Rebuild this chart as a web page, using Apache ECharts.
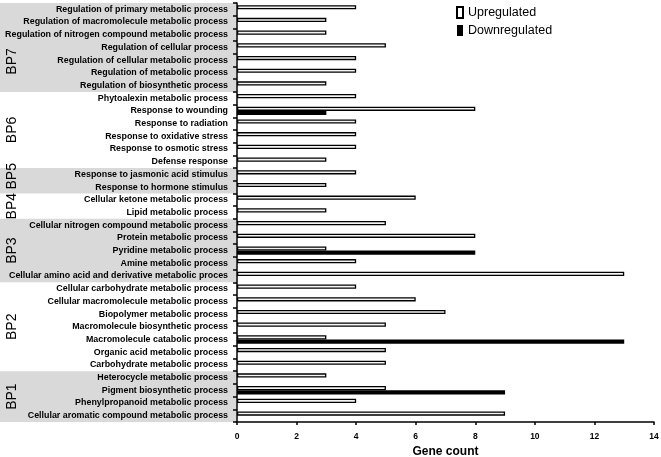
<!DOCTYPE html>
<html>
<head>
<meta charset="utf-8">
<script src="https://cdn.jsdelivr.net/npm/echarts@6/dist/echarts.min.js"></script>
<style>
html,body{margin:0;padding:0;background:#fff;}
#main{width:661px;height:457px;}
</style>
</head>
<body>
<div id="main"></div>
<script>
// ---- data (top to bottom) ----
const categories = [
  "Regulation of primary metabolic process",
  "Regulation of macromolecule metabolic process",
  "Regulation of nitrogen compound metabolic process",
  "Regulation of cellular process",
  "Regulation of cellular metabolic process",
  "Regulation of metabolic process",
  "Regulation of biosynthetic process",
  "Phytoalexin metabolic process",
  "Response to wounding",
  "Response to radiation",
  "Response to oxidative stress",
  "Response to osmotic stress",
  "Defense response",
  "Response to jasmonic acid stimulus",
  "Response to hormone stimulus",
  "Cellular ketone metabolic process",
  "Lipid metabolic process",
  "Cellular nitrogen compound metabolic process",
  "Protein metabolic process",
  "Pyridine metabolic process",
  "Amine metabolic process",
  "Cellular amino acid and derivative metabolic proces",
  "Cellular carbohydrate metabolic process",
  "Cellular macromolecule metabolic process",
  "Biopolymer metabolic process",
  "Macromolecule biosynthetic process",
  "Macromolecule catabolic process",
  "Organic acid metabolic process",
  "Carbohydrate metabolic process",
  "Heterocycle metabolic process",
  "Pigment biosynthetic process",
  "Phenylpropanoid metabolic process",
  "Cellular aromatic compound metabolic process"
];
const upregulated = [4,3,3,5,4,4,3,4,8,4,4,4,3,4,3,6,3,5,8,3,4,13,4,6,7,5,3,5,5,3,5,4,9];
const downregulated = [null,null,null,null,null,null,null,null,3,null,null,null,null,null,null,null,null,null,null,8,null,null,null,null,null,null,13,null,null,null,9,null,null];
const xTicks = [0,2,4,6,8,10,12,14];
// groups: name, first category index, last category index, shaded
const groupNames = ["BP7","BP6","BP5","BP4","BP3","BP2","BP1"];
const groupFirst = [0,7,13,15,17,22,29];
const groupLast  = [6,12,14,16,21,28,32];
const groupShaded = [true,false,true,false,true,false,true];

// ---- layout ----
const labelShift = {BP7: 1.1, BP5: -0.35}; // in category units
const labelFont = "'Liberation Sans', Arial, sans-serif";

const chart = echarts.init(document.getElementById('main'));
chart.setOption({
  animation: false,
  backgroundColor: '#fff',
  grid: {left: 237, right: 7, top: 3, bottom: 35, containLabel: false, outerBoundsMode: 'none'},
  legend: {
    left: 456, top: 6, orient: 'vertical', padding: 0,
    itemWidth: 6, itemHeight: 11, itemGap: 5,
    textStyle: {fontFamily: 'Liberation Sans, Arial, sans-serif', fontSize: 12.5, color: '#000'},
    data: [
      {name: 'Upregulated', icon: 'rect', itemStyle: {color: '#fff', borderColor: '#000', borderWidth: 2}},
      {name: 'Downregulated', icon: 'rect', itemStyle: {color: '#000', borderColor: '#000', borderWidth: 0}}
    ]
  },
  xAxis: {
    type: 'value', min: xTicks[0], max: xTicks[xTicks.length-1], interval: 2,
    name: 'Gene count', nameLocation: 'middle', nameGap: 23,
    nameTextStyle: {fontFamily: 'Liberation Sans, Arial, sans-serif', fontWeight: 'bold', fontSize: 12, color: '#000'},
    axisLine: {show: true, lineStyle: {color: '#000', width: 1.5}},
    axisTick: {show: true, length: 3, lineStyle: {color: '#000', width: 1.5}},
    axisLabel: {fontFamily: 'Liberation Sans, Arial, sans-serif', fontWeight: 'bold', fontSize: 8.5, color: '#000', margin: 10},
    splitLine: {show: false}
  },
  yAxis: {
    type: 'category', data: categories, inverse: true,
    axisLine: {show: true, lineStyle: {color: '#000', width: 1.5}},
    axisTick: {show: true, length: 4, interval: 0, lineStyle: {color: '#000', width: 1.5}},
    axisLabel: {interval: 0, fontFamily: labelFont, fontWeight: 'bold', fontSize: 8.9, color: '#000', margin: 9}
  },
  series: [
    {name: 'Upregulated', type: 'bar', data: upregulated, barWidth: 4.2, barGap: '0%',
     itemStyle: {color: '#f4f4f4', borderColor: '#000', borderWidth: 1.3}},
    {name: 'Downregulated', type: 'bar', data: downregulated, barWidth: 4.2, barGap: '0%',
     itemStyle: {color: '#000'}}
  ]
});

// grey bands and group labels positioned through the category axis
const p0 = chart.convertToPixel({yAxisIndex: 0}, categories[0]);
const p1 = chart.convertToPixel({yAxisIndex: 0}, categories[1]);
const step = p1 - p0;
const axisX = chart.convertToPixel({xAxisIndex: 0}, 0);
const graphics = [];
for (let g = 0; g < groupNames.length; g++) {
  const yTop = chart.convertToPixel({yAxisIndex: 0}, categories[groupFirst[g]]) - step/2;
  const yBot = chart.convertToPixel({yAxisIndex: 0}, categories[groupLast[g]]) + step/2;
  if (groupShaded[g]) {
    graphics.push({type: 'rect', z: -10, silent: true,
      shape: {x: 0, y: yTop, width: axisX - 1, height: yBot - yTop},
      style: {fill: '#d9d9d9'}});
  }
  const mid = (yTop + yBot)/2 + (labelShift[groupNames[g]] || 0) * step;
  graphics.push({type: 'text', z: 10, x: 12, y: mid, rotation: Math.PI/2,
    style: {text: groupNames[g], fill: '#000', font: '14px "Liberation Sans", Arial, sans-serif',
            textAlign: 'center', textVerticalAlign: 'middle'}});
}
chart.setOption({graphic: graphics});
</script>
</body>
</html>
